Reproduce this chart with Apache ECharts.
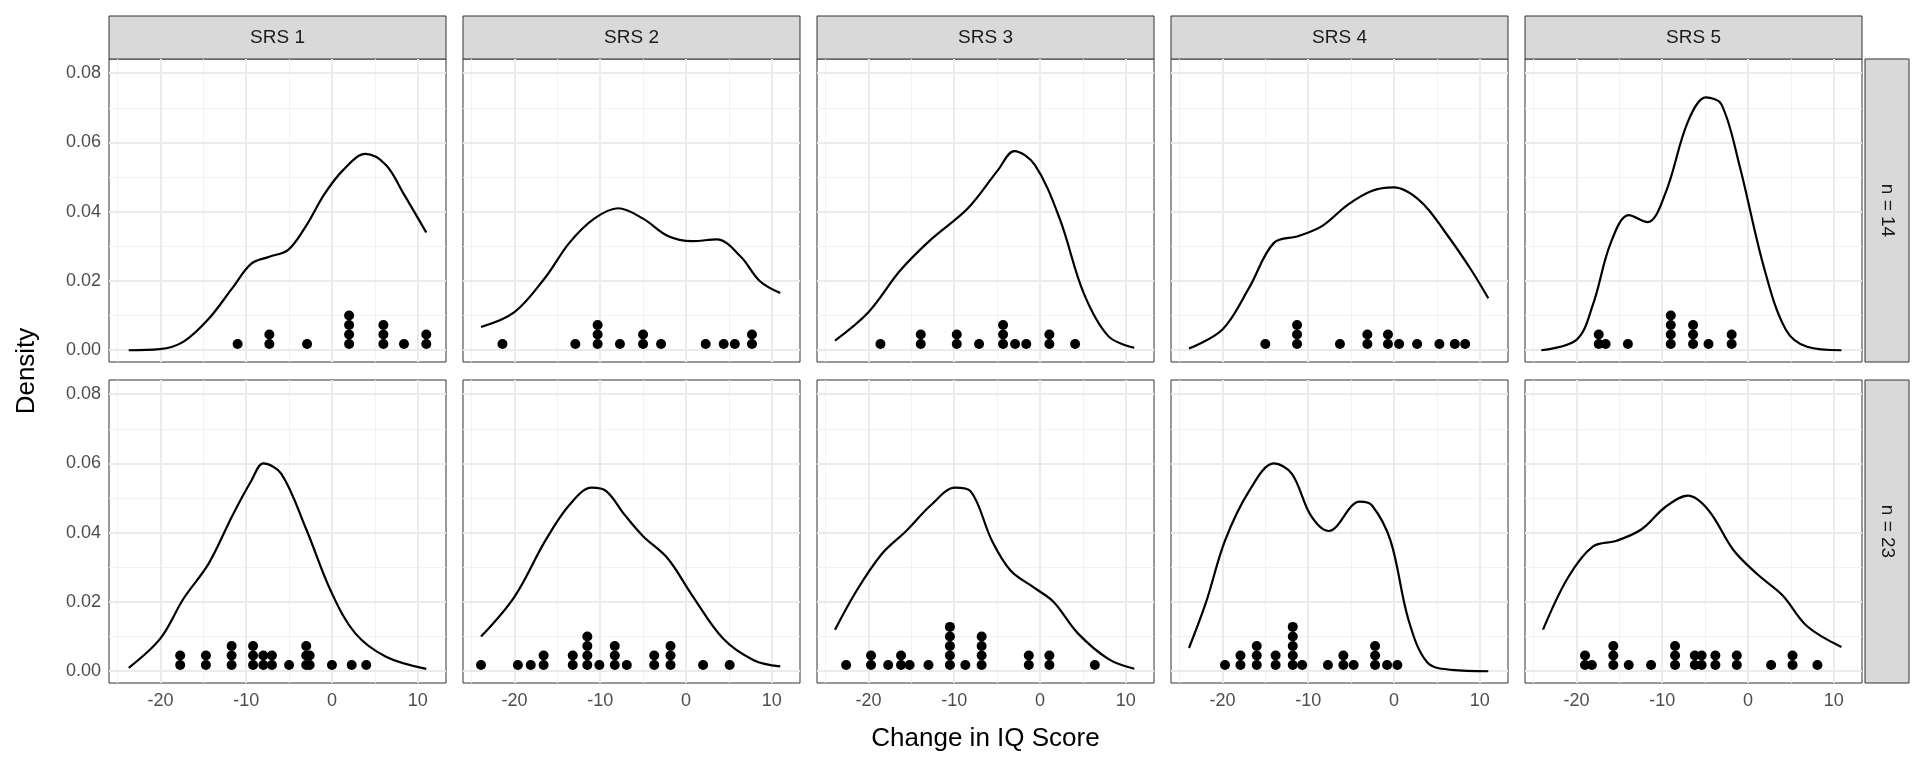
<!DOCTYPE html>
<html>
<head>
<meta charset="utf-8">
<script src="https://cdn.jsdelivr.net/npm/echarts@6/dist/echarts.min.js"></script>
<style>
  html, body { margin: 0; padding: 0; background: #fff; }
  #chart { width: 1920px; height: 768px; }
</style>
</head>
<body>
<div id="chart"></div>
<script>
const columns = ["SRS 1", "SRS 2", "SRS 3", "SRS 4", "SRS 5"];
const rows = ["n = 14", "n = 23"];
const xTicks = [-20, -10, 0, 10];
const xMinor = [-25, -15, -5, 5];
const yTicks = [0, 0.02, 0.04, 0.06, 0.08];
const yMinor = [0.01, 0.03, 0.05, 0.07];

// dots: [change in IQ, number stacked]
const dotsN14 = [
  [[-11, 1], [-7.3, 2], [-2.9, 1], [2, 4], [6, 3], [8.4, 1], [11, 2]],
  [[-21.4, 1], [-12.9, 1], [-10.3, 3], [-7.7, 1], [-5, 2], [-2.9, 1], [2.3, 1], [4.4, 1], [5.7, 1], [7.7, 2]],
  [[-18.6, 1], [-13.9, 2], [-9.7, 2], [-7.1, 1], [-4.3, 3], [-2.9, 1], [-1.6, 1], [1.1, 2], [4.1, 1]],
  [[-15, 1], [-11.3, 3], [-6.3, 1], [-3.1, 2], [-0.7, 2], [0.6, 1], [2.7, 1], [5.3, 1], [7.1, 1], [8.3, 1]],
  [[-17.4, 2], [-16.6, 1], [-14, 1], [-9, 4], [-6.4, 3], [-4.6, 1], [-1.9, 2]]
];
const dotsN23 = [
  [[-17.7, 2], [-14.7, 2], [-11.7, 3], [-9.2, 3], [-8, 2], [-7, 2], [-5, 1], [-3, 3], [-2.6, 2], [0, 1], [2.3, 1], [4, 1]],
  [[-23.9, 1], [-19.6, 1], [-18.1, 1], [-16.6, 2], [-13.2, 2], [-11.5, 4], [-10.1, 1], [-8.3, 3], [-6.9, 1], [-3.7, 2], [-1.8, 3], [2, 1], [5.1, 1]],
  [[-22.6, 1], [-19.7, 2], [-17.7, 1], [-16.2, 2], [-15.2, 1], [-13, 1], [-10.5, 5], [-8.7, 1], [-6.8, 4], [-1.3, 2], [1.1, 2], [6.4, 1]],
  [[-19.7, 1], [-17.9, 2], [-16, 3], [-13.8, 2], [-11.8, 5], [-10.7, 1], [-7.7, 1], [-5.9, 2], [-4.7, 1], [-2.2, 3], [-0.8, 1], [0.4, 1]],
  [[-19, 2], [-18.2, 1], [-15.7, 3], [-13.9, 1], [-11.3, 1], [-8.5, 3], [-6.2, 2], [-5.4, 2], [-3.8, 2], [-1.3, 2], [2.7, 1], [5.2, 2], [8.1, 1]]
];

// density curves: [x, density]
const densN14 = [
  [[-23.7, 0], [-20.1, 0.0003], [-17.3, 0.0025], [-14.4, 0.009], [-11.6, 0.018], [-9.4, 0.025], [-7.3, 0.027], [-5.1, 0.029], [-3, 0.036], [-0.9, 0.045], [1.3, 0.052], [3.9, 0.0567], [6.3, 0.0535], [8.4, 0.045], [11, 0.034]],
  [[-23.9, 0.0067], [-20, 0.011], [-16.4, 0.021], [-13.6, 0.031], [-10.7, 0.038], [-7.9, 0.041], [-5, 0.038], [-2.1, 0.033], [0.7, 0.0315], [3.6, 0.032], [6.4, 0.027], [8.6, 0.02], [11, 0.0165]],
  [[-23.9, 0.0028], [-20, 0.011], [-16.3, 0.023], [-12.7, 0.032], [-8.4, 0.041], [-4.9, 0.052], [-3, 0.0575], [-0.6, 0.0535], [2.3, 0.038], [5.1, 0.0165], [8, 0.004], [11, 0.0007]],
  [[-23.9, 0.0005], [-20, 0.006], [-16.9, 0.018], [-14, 0.031], [-11.1, 0.033], [-8.3, 0.036], [-5.4, 0.042], [-2.6, 0.046], [0, 0.047], [3.1, 0.043], [6, 0.034], [8.9, 0.0236], [11, 0.015]],
  [[-24.1, 0], [-20, 0.003], [-18.1, 0.013], [-16, 0.031], [-13.9, 0.039], [-11.7, 0.037], [-9.6, 0.0455], [-7, 0.066], [-4.9, 0.073], [-3.1, 0.071], [-1, 0.0535], [1.9, 0.0236], [4.4, 0.006], [6.9, 0.001], [10.9, 0]]
];
const densN23 = [
  [[-23.7, 0.001], [-20, 0.0095], [-17.3, 0.021], [-14.4, 0.031], [-11.6, 0.045], [-9.4, 0.055], [-8, 0.06], [-5.9, 0.057], [-3, 0.041], [-0.1, 0.023], [2.7, 0.011], [6.3, 0.0042], [11, 0.0007]],
  [[-23.9, 0.01], [-20, 0.0215], [-16.4, 0.0377], [-13.6, 0.048], [-11, 0.053], [-9.3, 0.052], [-7.1, 0.045], [-5, 0.039], [-2.1, 0.0325], [0.7, 0.022], [4.3, 0.0095], [7.9, 0.0032], [11, 0.0014]],
  [[-23.9, 0.012], [-21.3, 0.0236], [-18.4, 0.034], [-15.6, 0.0405], [-12.7, 0.048], [-9.9, 0.053], [-8.1, 0.052], [-5.6, 0.0377], [-3.4, 0.029], [-0.6, 0.024], [1.6, 0.02], [4.4, 0.011], [8, 0.0035], [11, 0.0007]],
  [[-23.9, 0.0067], [-21.9, 0.02], [-19.7, 0.0377], [-16.9, 0.052], [-14, 0.06], [-11.9, 0.057], [-9.7, 0.045], [-7.6, 0.0405], [-4, 0.049], [-2.6, 0.048], [-0.4, 0.0377], [1.7, 0.0148], [3.9, 0.0025], [6.7, 0.0004], [11, 0]],
  [[-23.9, 0.012], [-21, 0.027], [-18.1, 0.036], [-15.3, 0.0377], [-12.4, 0.041], [-9.6, 0.0475], [-7, 0.0507], [-4.6, 0.0465], [-1.7, 0.035], [1.1, 0.028], [4, 0.022], [6.9, 0.013], [10.9, 0.007]]
];

const chart = echarts.init(document.getElementById("chart"));

const L0 = 109, PW = 337, GAP = 17;
const TOPS = [59, 380], PH = 303;
const STRIP_TOP = 16, STRIP_H = 43, RSTRIP_W = 44;
const DOT_BASE = 0.0018, DOT_STEP = 0.00275;
const allDots = [dotsN14, dotsN23];
const allDens = [densN14, densN23];
const FONT = "Liberation Sans";

const grids = [], xAxes = [], yAxes = [], series = [], graphics = [];
const gridLines = [
  ...xMinor.map(v => ({ xAxis: v, lineStyle: { color: "#f2f2f2", width: 1, type: "solid" } })),
  ...yMinor.map(v => ({ yAxis: v, lineStyle: { color: "#f2f2f2", width: 1, type: "solid" } })),
  ...xTicks.map(v => ({ xAxis: v, lineStyle: { color: "#ebebeb", width: 2, type: "solid" } })),
  ...yTicks.map(v => ({ yAxis: v, lineStyle: { color: "#ebebeb", width: 2, type: "solid" } }))
];

rows.forEach((rowName, r) => {
  columns.forEach((colName, c) => {
    const i = r * columns.length + c;
    const left = L0 + c * (PW + GAP);
    grids.push({ left, top: TOPS[r], width: PW, height: PH, show: true, borderColor: "#333", borderWidth: 1, backgroundColor: "#fff" });
    xAxes.push({
      gridIndex: i, type: "value", min: -26, max: 13.3,
      axisLine: { show: false }, splitLine: { show: false },
      axisTick: { show: r === 1, length: 5, lineStyle: { color: "#333" }, customValues: xTicks },
      axisLabel: { show: r === 1, color: "#4d4d4d", fontSize: 18, fontFamily: FONT, margin: 9, customValues: xTicks }
    });
    yAxes.push({
      gridIndex: i, type: "value", min: -0.0034, max: 0.0841,
      axisLine: { show: false }, splitLine: { show: false },
      axisTick: { show: c === 0, length: 5, lineStyle: { color: "#333" }, customValues: yTicks },
      axisLabel: { show: c === 0, color: "#4d4d4d", fontSize: 18, fontFamily: FONT, margin: 8, customValues: yTicks, formatter: v => v.toFixed(2) }
    });
    const pts = [];
    allDots[r][c].forEach(([x, n]) => {
      for (let k = 0; k < n; k++) pts.push([x, DOT_BASE + k * DOT_STEP]);
    });
    series.push({
      type: "line", xAxisIndex: i, yAxisIndex: i, data: allDens[r][c],
      smooth: 0.35, symbol: "none", lineStyle: { color: "#000", width: 2.2 },
      silent: true, z: 3,
      markLine: { silent: true, symbol: "none", label: { show: false }, data: gridLines, z: 1 }
    });
    series.push({
      type: "scatter", xAxisIndex: i, yAxisIndex: i, data: pts,
      symbolSize: 10, itemStyle: { color: "#000", opacity: 1 }, silent: true, z: 4
    });
    if (r === 0) {
      graphics.push({
        type: "rect", shape: { x: left, y: STRIP_TOP, width: PW, height: STRIP_H },
        style: { fill: "#d9d9d9", stroke: "#333", lineWidth: 1 }
      });
      graphics.push({
        type: "text", x: left + PW / 2, y: STRIP_TOP + STRIP_H / 2,
        style: { text: colName, fill: "#1a1a1a", font: "19px " + FONT, align: "center", verticalAlign: "middle" }
      });
    }
  });
  const sx = L0 + 5 * PW + 4 * GAP + 3;
  graphics.push({
    type: "rect", shape: { x: sx, y: TOPS[r], width: RSTRIP_W, height: PH },
    style: { fill: "#d9d9d9", stroke: "#333", lineWidth: 1 }
  });
  graphics.push({
    type: "text", x: sx + RSTRIP_W / 2, y: TOPS[r] + PH / 2, rotation: -Math.PI / 2,
    style: { text: rowName, fill: "#1a1a1a", font: "19px " + FONT, align: "center", verticalAlign: "middle" }
  });
});

graphics.push({
  type: "text", x: L0 + (5 * PW + 4 * GAP) / 2, y: 739,
  style: { text: "Change in IQ Score", fill: "#000", font: "26px " + FONT, align: "center", verticalAlign: "middle" }
});
graphics.push({
  type: "text", x: 27, y: (TOPS[0] + TOPS[1] + PH) / 2, rotation: Math.PI / 2,
  style: { text: "Density", fill: "#000", font: "26px " + FONT, align: "center", verticalAlign: "middle" }
});

chart.setOption({
  animation: false,
  grid: grids, xAxis: xAxes, yAxis: yAxes, series, graphic: graphics
});
</script>
</body>
</html>
